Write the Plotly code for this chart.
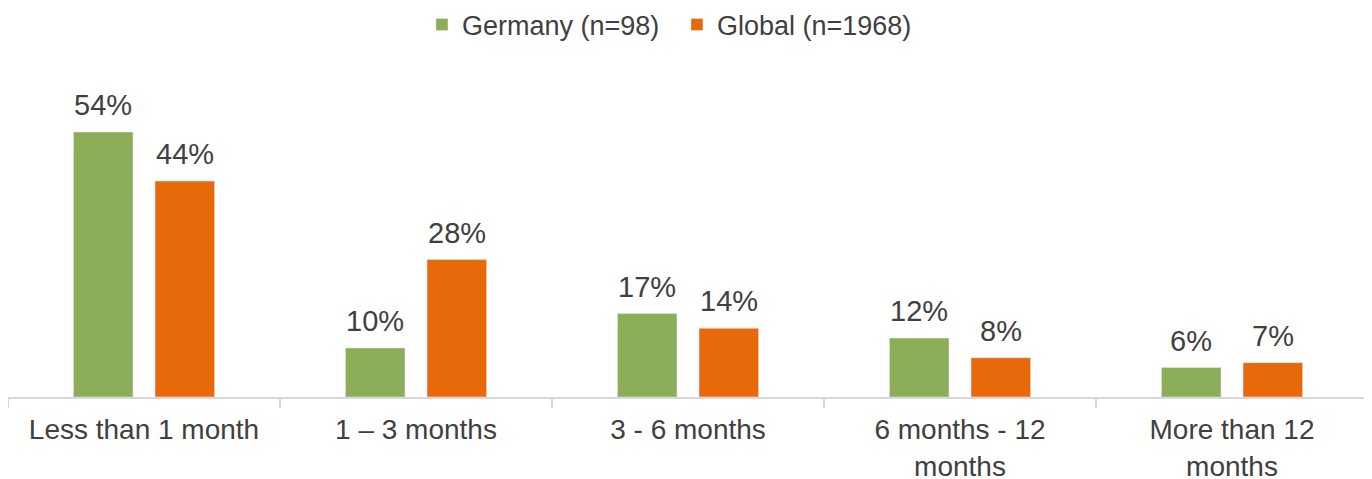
import plotly.graph_objects as go

categories = ["Less than 1 month", "1 – 3 months", "3 - 6 months", "6 months - 12<br>months", "More than 12<br>months"]
germany = [54, 10, 17, 12, 6]
global_ = [44, 28, 14, 8, 7]
series_names = ["Germany (n=98)", "Global (n=1968)"]

txt_color = "#404040"
font_family = "Liberation Sans, Arial, sans-serif"
label_size = 29
tick_size = 28

fig = go.Figure()
fig.add_trace(go.Bar(x=categories, y=germany, name=series_names[0], marker=dict(color="#8CAD58")))
fig.add_trace(go.Bar(x=categories, y=global_, name=series_names[1], marker=dict(color="#E8690A")))

annotations = []
for vals, shift in ((germany, -40.75), (global_, 40.75)):
    for c, v in zip(categories, vals):
        annotations.append(dict(
            x=c, y=v, xref="x", yref="y", text=f"{v}%", showarrow=False,
            xshift=shift, yshift=9, yanchor="bottom", xanchor="center",
            font=dict(size=label_size, color=txt_color, family=font_family),
        ))

# page body has an 8px default margin, so the figure is sized to fit the window
fig.update_layout(
    width=1364, height=471,
    margin=dict(l=0, r=4, t=72, b=82),
    paper_bgcolor="white", plot_bgcolor="white",
    font=dict(family=font_family, size=26, color=txt_color),
    barmode="group", bargap=0.40, bargroupgap=0.27,
    legend=dict(orientation="h", x=0.4919, xanchor="center", y=0.964, yanchor="middle",
                yref="container", font=dict(size=27, color=txt_color),
                traceorder="normal", entrywidth=210, entrywidthmode="pixels"),
    showlegend=True,
    annotations=annotations,
)
fig.update_xaxes(
    automargin=False,
    showline=True, linecolor="#D9D9D9", linewidth=1.5,
    ticks="outside", tickson="boundaries", ticklen=9, tickcolor="#D9D9D9", tickwidth=1.5,
    ticklabelstandoff=7,
    tickfont=dict(size=tick_size, color=txt_color), showgrid=False,
)
fig.update_yaxes(automargin=False, range=[0, 64.6], visible=False, showgrid=False, zeroline=False)

fig.write_html("out.html")
